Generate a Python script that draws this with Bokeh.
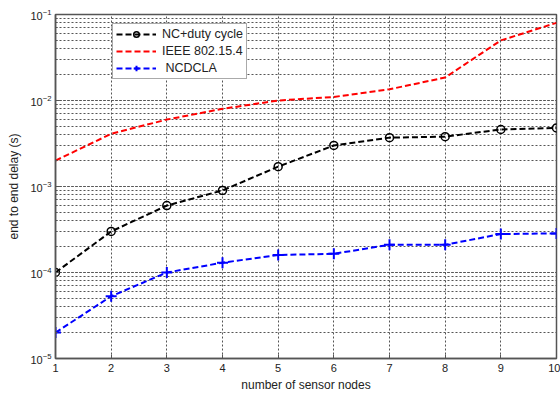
from bokeh.plotting import figure
from bokeh.models import Range1d, FixedTicker, Legend, LegendItem
from bokeh.embed import file_html
from bokeh.resources import INLINE

# number of sensor nodes
nodes = [1, 2, 3, 4, 5, 6, 7, 8, 9, 10]

# end to end delay (s) per scheme
nc_duty_cycle = [1.0e-4, 3.0e-4, 6.0e-4, 9.0e-4, 1.7e-3, 3.0e-3, 3.7e-3, 3.8e-3, 4.6e-3, 4.8e-3]
ieee_802_15_4 = [2.0e-3, 4.1e-3, 6.0e-3, 8.0e-3, 1.0e-2, 1.1e-2, 1.35e-2, 1.85e-2, 5.0e-2, 8.0e-2]
ncdcla = [2.0e-5, 5.3e-5, 1.0e-4, 1.3e-4, 1.6e-4, 1.65e-4, 2.1e-4, 2.1e-4, 2.8e-4, 2.85e-4]

series_names = ["NC+duty cycle", "IEEE 802.15.4", " NCDCLA"]

x_ticks = [1, 2, 3, 4, 5, 6, 7, 8, 9, 10]
y_limits = (1e-5, 1e-1)

FONT = "Liberation Sans"
GRID = "#555555"
FRAME = "#555555"

p = figure(width=560, height=394, y_axis_type="log",
           x_range=Range1d(1, 10), y_range=Range1d(*y_limits),
           output_backend="svg", toolbar_location=None,
           min_border_left=55, min_border_right=4,
           min_border_top=14, min_border_bottom=36)

p.background_fill_color = "white"
p.border_fill_color = "white"
p.outline_line_color = FRAME
p.outline_line_width = 1.5

# dotted grid, major and minor decades
for g in (p.xgrid[0], p.ygrid[0]):
    g.grid_line_color = GRID
    g.grid_line_dash = "2 2"
    g.grid_line_width = 1
p.ygrid.minor_grid_line_color = GRID
p.ygrid.minor_grid_line_dash = "2 2"

p.xaxis.ticker = FixedTicker(ticks=x_ticks)
for ax in (p.xaxis[0], p.yaxis[0]):
    ax.axis_line_color = FRAME
    ax.axis_line_width = 1.5
    ax.major_tick_out = 0
    ax.major_tick_in = 4
    ax.minor_tick_out = 0
    ax.minor_tick_in = 2
    ax.major_tick_line_color = FRAME
    ax.minor_tick_line_color = FRAME
    ax.major_label_text_font = FONT
    ax.major_label_text_font_size = "11px"
    ax.major_label_text_color = "#222222"
    ax.axis_label_text_font = FONT
    ax.axis_label_text_font_size = "12px"
    ax.axis_label_text_font_style = "normal"
    ax.axis_label_text_color = "#222222"
p.xaxis.minor_tick_line_color = None
p.xaxis.axis_label = "number of sensor nodes"
p.yaxis.axis_label = "end to end delay (s)"
p.xaxis.axis_label_standoff = 3
p.yaxis.axis_label_standoff = 6
p.xaxis.major_label_standoff = 5
p.yaxis.major_label_standoff = 4

dash = "6 3"
r1 = p.line(nodes, nc_duty_cycle, line_color="black", line_dash=dash, line_width=2)
m1 = p.scatter(nodes, nc_duty_cycle, marker="circle", size=8, fill_color=None,
               line_color="black", line_width=1.5)
r2 = p.line(nodes, ieee_802_15_4, line_color="red", line_dash=dash, line_width=2)
r3 = p.line(nodes, ncdcla, line_color="blue", line_dash=dash, line_width=2)
m3 = p.scatter(nodes, ncdcla, marker="cross", size=11, line_color="blue", line_width=2)

legend = Legend(items=[
    LegendItem(label=series_names[0], renderers=[r1, m1]),
    LegendItem(label=series_names[1], renderers=[r2]),
    LegendItem(label=series_names[2], renderers=[r3, m3]),
], location=(57, 279))
legend.label_text_font = FONT
legend.label_text_font_size = "12.5px"
legend.label_text_color = "#222222"
legend.border_line_color = FRAME
legend.border_line_width = 1.5
legend.background_fill_alpha = 1
legend.glyph_width = 40
legend.glyph_height = 14
legend.label_height = 14
legend.spacing = 3
legend.padding = 3
legend.margin = 0
legend.label_standoff = 6
p.add_layout(legend, "center")

open("out.html", "w").write(file_html(p, INLINE))
